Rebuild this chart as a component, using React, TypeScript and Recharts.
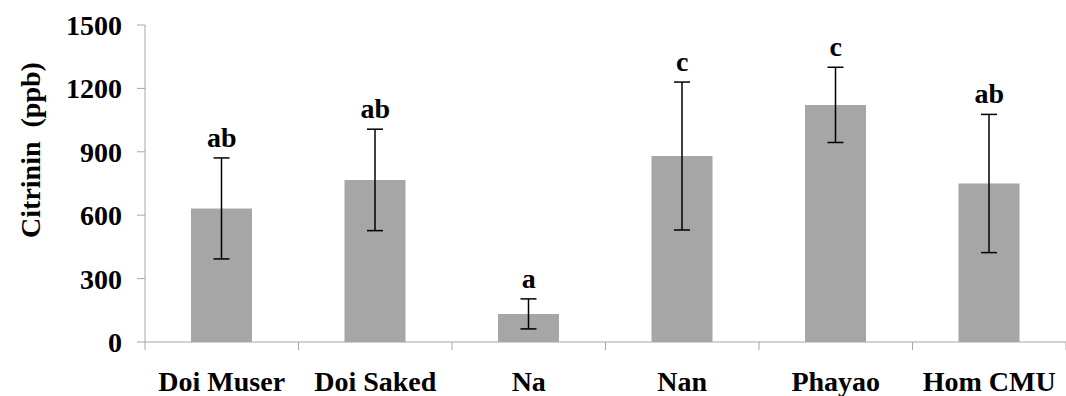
import { ComposedChart, Bar, Line, XAxis, YAxis, ErrorBar, LabelList } from 'recharts'

const sites = ['Doi Muser', 'Doi Saked', 'Na', 'Nan', 'Phayao', 'Hom CMU']
const citrinin = [632, 767, 133, 880, 1122, 750]
const sd = [239, 240, 71, 350, 178, 327]
const letters = ['ab', 'ab', 'a', 'c', 'c', 'ab']
const yTicks = [0, 300, 600, 900, 1200, 1500]

const FONT = 'Liberation Serif'
const AXIS = '#a6a6a6'

const data = sites.map((s, i) => ({
  site: s,
  value: citrinin[i],
  err: sd[i],
  top: citrinin[i] + sd[i],
  sig: letters[i],
}))

const txt = { fontFamily: FONT, fontWeight: 'bold' as const, fontSize: 28 }

function SiteTick(props: any) {
  const { x, y, payload, index } = props
  const half = payload?.offset ?? (1066 - 145) / sites.length / 2
  return (
    <g>
      <line x1={x - half} x2={x - half} y1={y} y2={y + 8} stroke={AXIS} />
      {index === sites.length - 1 && (
        <line x1={x + half} x2={x + half} y1={y} y2={y + 8} stroke={AXIS} />
      )}
      <text x={x} y={y + 49} textAnchor="middle" fill="#000" style={txt}>
        {payload.value}
      </text>
    </g>
  )
}

export default function App() {
  return (
    <div style={{ width: 1066, height: 396 }}>
      <style>{'body{margin:0}'}</style>
      <ComposedChart width={1066} height={396} data={data}
        margin={{ top: 25, right: 0, bottom: 0, left: 0 }}>
        <XAxis dataKey="site" height={54} stroke={AXIS} tickLine={false}
          tickSize={0} tickMargin={0} tick={<SiteTick />} interval={0} />
        <YAxis width={145} domain={[0, 1500]} ticks={yTicks} stroke={AXIS}
          tickSize={8} tickMargin={15}
          tick={{ fill: '#000', style: txt }}
          label={{
            content: () => (
              <text transform="translate(30,150) rotate(-90)" textAnchor="middle"
                dominantBaseline="central" fill="#000"
                style={{ ...txt, whiteSpace: 'pre' }}>
                {'Citrinin  (ppb)'}
              </text>
            ),
          }} />
        <Bar dataKey="value" fill="#a6a6a6" barSize={61} isAnimationActive={false}>
          <ErrorBar dataKey="err" width={8} stroke="#000" strokeWidth={1.5}
            isAnimationActive={false} />
        </Bar>
        <Line dataKey="top" stroke="none" dot={false} activeDot={false}
          isAnimationActive={false} legendType="none">
          <LabelList dataKey="sig" position="top" offset={11} fill="#000"
            style={txt} />
        </Line>
      </ComposedChart>
    </div>
  )
}
